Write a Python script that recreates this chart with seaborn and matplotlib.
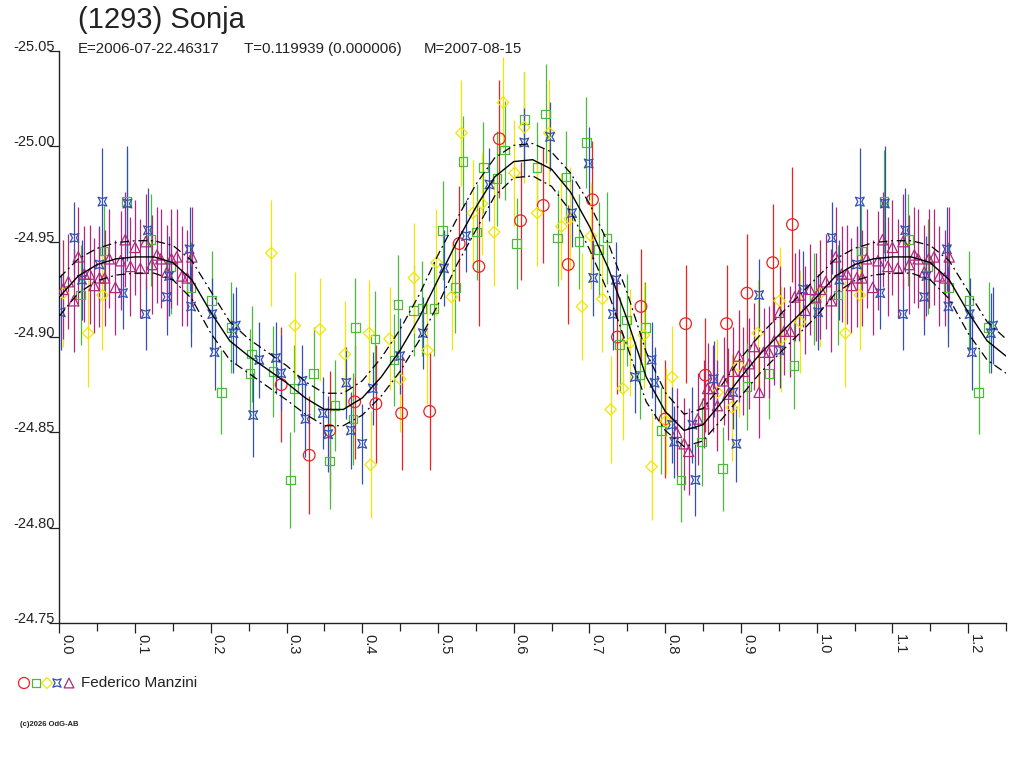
import numpy as np
import pandas as pd
import matplotlib
matplotlib.use("Agg")
import matplotlib.pyplot as plt
from matplotlib.path import Path
import seaborn as sns

# Lightcurve (1293) Sonja - phase folded, period 0.119939 d
title = "(1293) Sonja"
sub_e = "E=2006-07-22.46317"
sub_t = "T=0.119939 (0.000006)"
sub_m = "M=2007-08-15"
observer = "Federico Manzini"
footer = "(c)2026 OdG-AB"

# red circles
red_phase = [0.293, 0.330, 0.357, 0.390, 0.418, 0.452, 0.489, 0.528, 0.554, 0.581, 0.609, 0.639,
             0.672, 0.704, 0.737, 0.768, 0.800, 0.827, 0.853, 0.881, 0.908, 0.942, 0.968]
red_mag = [-24.875, -24.838, -24.851, -24.866, -24.865, -24.860, -24.861, -24.949, -24.937, -25.004,
           -24.961, -24.969, -24.938, -24.972, -24.900, -24.916, -24.857, -24.907, -24.880, -24.907,
           -24.923, -24.939, -24.959]
red_err = [0.030, 0.031, 0.031, 0.030, 0.031, 0.030, 0.031, 0.030, 0.031, 0.031, 0.031, 0.030,
           0.031, 0.031, 0.030, 0.030, 0.031, 0.031, 0.030, 0.031, 0.031, 0.031, 0.030]

# green squares
green_phase = [0.028, 0.059, 0.089, 0.121, 0.147, 0.174, 0.201, 0.214, 0.227, 0.254, 0.252, 0.282,
               0.305, 0.310, 0.336, 0.357, 0.364, 0.388, 0.391, 0.417, 0.442, 0.447, 0.468, 0.479,
               0.495, 0.506, 0.523, 0.533, 0.551, 0.560, 0.578, 0.588, 0.604, 0.614, 0.631, 0.642,
               0.658, 0.669, 0.686, 0.696, 0.712, 0.723, 0.740, 0.749, 0.767, 0.774, 0.795, 0.821,
               0.848, 0.876, 0.908, 0.937, 0.970, 0.997]
green_mag = [-24.922, -24.945, -24.971, -24.951, -24.937, -24.926, -24.919, -24.871, -24.905, -24.891,
             -24.881, -24.882, -24.825, -24.873, -24.881, -24.835, -24.864, -24.857, -24.905, -24.899,
             -24.888, -24.917, -24.914, -24.915, -24.915, -24.956, -24.926, -24.992, -24.955, -24.989,
             -24.983, -24.998, -24.949, -25.014, -24.989, -25.017, -24.952, -24.984, -24.950, -25.002,
             -24.946, -24.952, -24.896, -24.909, -24.880, -24.905, -24.851, -24.825, -24.845, -24.831,
             -24.874, -24.881, -24.885, -24.920]
green_err = [0.026, 0.024, 0.027, 0.024, 0.025, 0.024, 0.026, 0.022, 0.024, 0.025, 0.023, 0.024,
             0.025, 0.023, 0.024, 0.025, 0.024, 0.024, 0.026, 0.025, 0.024, 0.026, 0.024, 0.025,
             0.025, 0.026, 0.024, 0.024, 0.025, 0.024, 0.025, 0.026, 0.024, 0.025, 0.024, 0.026,
             0.025, 0.024, 0.025, 0.024, 0.025, 0.024, 0.025, 0.024, 0.023, 0.024, 0.023, 0.022,
             0.023, 0.022, 0.023, 0.024, 0.023, 0.024]

# yellow diamonds
yellow_phase = [0.005, 0.038, 0.057, 0.280, 0.311, 0.344, 0.377, 0.409, 0.411, 0.436, 0.450, 0.468,
                0.486, 0.498, 0.518, 0.531, 0.546, 0.558, 0.574, 0.586, 0.601, 0.614, 0.631, 0.647,
                0.663, 0.674, 0.690, 0.702, 0.717, 0.728, 0.744, 0.754, 0.772, 0.782, 0.801, 0.809,
                0.869, 0.888, 0.897, 0.922, 0.951, 0.953, 0.978]
yellow_mag = [-24.923, -24.902, -24.922, -24.944, -24.906, -24.904, -24.891, -24.902, -24.833, -24.899,
              -24.878, -24.931, -24.893, -24.939, -24.921, -25.007, -24.965, -24.970, -24.955, -25.023,
              -24.986, -25.010, -24.965, -25.007, -24.958, -24.962, -24.916, -24.953, -24.920, -24.862,
              -24.873, -24.897, -24.901, -24.832, -24.856, -24.879, -24.871, -24.863, -24.885, -24.902,
              -24.919, -24.899, -24.908]
yellow_err = [0.028, 0.028, 0.029, 0.028, 0.028, 0.027, 0.028, 0.028, 0.028, 0.027, 0.028, 0.029,
              0.028, 0.028, 0.028, 0.028, 0.028, 0.027, 0.028, 0.024, 0.028, 0.029, 0.028, 0.028,
              0.028, 0.027, 0.028, 0.028, 0.028, 0.028, 0.027, 0.028, 0.028, 0.028, 0.028, 0.027,
              0.028, 0.028, 0.027, 0.028, 0.028, 0.028, 0.027]

# blue stars
blue_phase = [0.002, 0.020, 0.030, 0.053, 0.057, 0.084, 0.090, 0.114, 0.117, 0.142, 0.145, 0.172,
              0.174, 0.202, 0.205, 0.230, 0.233, 0.256, 0.264, 0.286, 0.293, 0.321, 0.325, 0.348,
              0.355, 0.379, 0.385, 0.400, 0.414, 0.450, 0.480, 0.508, 0.537, 0.568, 0.614, 0.648,
              0.677, 0.699, 0.705, 0.731, 0.735, 0.760, 0.782, 0.786, 0.809, 0.812, 0.836, 0.840,
              0.864, 0.890, 0.894, 0.924, 0.951, 0.982]
blue_mag = [-24.913, -24.952, -24.930, -24.938, -24.971, -24.923, -24.970, -24.912, -24.956, -24.921,
            -24.932, -24.946, -24.916, -24.912, -24.892, -24.902, -24.906, -24.859, -24.888, -24.889,
            -24.881, -24.877, -24.857, -24.860, -24.849, -24.876, -24.851, -24.844, -24.873, -24.890,
            -24.902, -24.936, -24.953, -24.980, -25.002, -25.005, -24.965, -24.991, -24.931, -24.912,
            -24.930, -24.879, -24.888, -24.876, -24.854, -24.845, -24.854, -24.825, -24.878, -24.871,
            -24.844, -24.922, -24.893, -24.925]
blue_err = [0.020, 0.019, 0.021, 0.020, 0.028, 0.019, 0.030, 0.019, 0.022, 0.020, 0.021, 0.022,
            0.021, 0.019, 0.020, 0.021, 0.020, 0.022, 0.020, 0.019, 0.020, 0.019, 0.020, 0.019,
            0.020, 0.019, 0.020, 0.021, 0.019, 0.020, 0.019, 0.020, 0.019, 0.019, 0.018, 0.018,
            0.018, 0.019, 0.020, 0.019, 0.020, 0.019, 0.020, 0.019, 0.020, 0.019, 0.020, 0.019,
            0.020, 0.019, 0.020, 0.019, 0.020, 0.020]

# magenta triangles
mag_phase = [0.005, 0.012, 0.019, 0.025, 0.033, 0.040, 0.046, 0.053, 0.060, 0.066, 0.074, 0.081,
             0.087, 0.094, 0.100, 0.107, 0.114, 0.122, 0.129, 0.134, 0.142, 0.148, 0.155, 0.162,
             0.169, 0.175,
             0.815, 0.825, 0.831, 0.843, 0.851, 0.856, 0.863, 0.869, 0.877, 0.883, 0.889, 0.897,
             0.903, 0.911, 0.917, 0.924, 0.930, 0.937, 0.944, 0.951, 0.957, 0.965, 0.971, 0.977,
             0.985, 0.991, 0.999]
mag_mag = [-24.925, -24.929, -24.919, -24.942, -24.933, -24.933, -24.927, -24.931, -24.931, -24.941,
           -24.926, -24.940, -24.951, -24.937, -24.947, -24.936, -24.950, -24.938, -24.943, -24.941,
           -24.934, -24.941, -24.942, -24.932, -24.931, -24.942,
           -24.850, -24.844, -24.840, -24.857, -24.865, -24.873, -24.873, -24.864, -24.877, -24.870,
           -24.882, -24.890, -24.882, -24.886, -24.895, -24.871, -24.892, -24.892, -24.898, -24.913,
           -24.903, -24.903, -24.921, -24.922, -24.914, -24.925, -24.921]
mag_err = [0.026, 0.025, 0.027, 0.026, 0.025, 0.026, 0.025, 0.026, 0.025, 0.026, 0.025, 0.026,
           0.025, 0.026, 0.025, 0.026, 0.025, 0.026, 0.025, 0.026, 0.025, 0.026, 0.025, 0.026,
           0.025, 0.026,
           0.023, 0.024, 0.023, 0.024, 0.023, 0.024, 0.023, 0.024, 0.023, 0.024, 0.023, 0.024,
           0.023, 0.024, 0.023, 0.024, 0.023, 0.024, 0.023, 0.024, 0.023, 0.024, 0.023, 0.024,
           0.023, 0.024, 0.023]

# fourier fit read at 0.025 phase steps, and half width of the dash-dot band
fit_phase = [0.000, 0.025, 0.050, 0.075, 0.100, 0.125, 0.150, 0.175, 0.200, 0.225, 0.250, 0.275,
             0.300, 0.325, 0.350, 0.375, 0.400, 0.425, 0.450, 0.475, 0.500, 0.525, 0.550, 0.575,
             0.600, 0.625, 0.650, 0.675, 0.700, 0.725, 0.750, 0.775, 0.800, 0.825, 0.850, 0.875,
             0.900, 0.925, 0.950, 0.975, 1.000]
fit_mag = [-24.921, -24.932, -24.938, -24.941, -24.942, -24.942, -24.939, -24.930, -24.913, -24.898,
           -24.890, -24.883, -24.876, -24.868, -24.862, -24.862, -24.868, -24.879, -24.893, -24.910,
           -24.930, -24.950, -24.968, -24.984, -24.992, -24.993, -24.988, -24.976, -24.958, -24.936,
           -24.909, -24.879, -24.861, -24.851, -24.854, -24.866, -24.879, -24.891, -24.901, -24.911,
           -24.921]
fit_band = [0.010, 0.009, 0.0085, 0.0085, 0.0085, 0.0085, 0.009, 0.010, 0.011, 0.010, 0.009, 0.009,
            0.009, 0.0085, 0.0085, 0.0085, 0.009, 0.010, 0.011, 0.012, 0.013, 0.012, 0.012, 0.010,
            0.0085, 0.0085, 0.009, 0.010, 0.012, 0.013, 0.014, 0.013, 0.010, 0.0085, 0.0085, 0.009,
            0.010, 0.010, 0.010, 0.010, 0.010]

series = [
    ("red", red_phase, red_mag, red_err, "#ee2020", "o", 70),
    ("green", green_phase, green_mag, green_err, "#4cbb3c", "s", 38),
    ("yellow", yellow_phase, yellow_mag, yellow_err, "#f2e600", "D", 34),
    ("blue", blue_phase, blue_mag, blue_err, "#3450b4", None, 40),
    ("magenta", mag_phase, mag_mag, mag_err, "#b0287e", "^", 55),
]

star = Path([(-1, 1), (0, 0.7), (1, 1), (0.45, 0), (1, -1), (0, -0.7), (-1, -1), (-0.45, 0), (-1, 1)],
            [Path.MOVETO] + [Path.LINETO] * 7 + [Path.CLOSEPOLY])

XMAX = 1.25


def wrap(ph, vals):
    # the plot repeats the first quarter of the phase after 1.0
    df = pd.DataFrame({"phase": ph, "mag": vals[0], "err": vals[1]})
    extra = df[df["phase"] + 1 <= XMAX].copy()
    extra["phase"] += 1
    return pd.concat([df, extra], ignore_index=True)


sns.set_style("white")
plt.rcParams["font.family"] = ["Liberation Sans", "DejaVu Sans"]

fig = plt.figure(figsize=(10.24, 7.68), dpi=100)
ax = fig.add_axes([59.3 / 1024, 1 - 623 / 768, (1006 - 59.3) / 1024, (623 - 51) / 768])

for name, ph, mg, er, col, mk, size in series:
    d = wrap(ph, (mg, er))
    ax.vlines(d["phase"], d["mag"] - d["err"], d["mag"] + d["err"], color=col, lw=0.9, zorder=2)
    sns.scatterplot(data=d, x="phase", y="mag", ax=ax, marker=mk if mk else star, s=size,
                    facecolors="none", edgecolor=col, linewidth=0.9, zorder=3, legend=False)

fit = pd.DataFrame({"phase": fit_phase, "mag": fit_mag, "band": fit_band})
fx = fit[(fit["phase"] > 0) & (fit["phase"] + 1 <= XMAX + 1e-9)].copy()
fx["phase"] += 1
fit = pd.concat([fit, fx], ignore_index=True)
sns.lineplot(x=fit["phase"], y=fit["mag"], ax=ax, color="black", lw=1.0, zorder=5, sort=False)
for sign in (-1, 1):
    sns.lineplot(x=fit["phase"], y=fit["mag"] + sign * fit["band"], ax=ax, color="black", lw=0.9,
                 linestyle=(0, (7, 3, 1.5, 3)), zorder=5, sort=False)

ax.set_xlim(0, XMAX)
ax.set_ylim(-24.75, -25.05)
ax.set_xticks(np.arange(0, 1.21, 0.1))
ax.set_xticks(np.arange(0.05, 1.26, 0.1), minor=True)
ax.set_xticklabels([f"{v:.1f}" for v in np.arange(0, 1.21, 0.1)])
ax.set_yticks(np.arange(-25.05, -24.74, 0.05))
ax.set_yticklabels([f"{v:.2f}" for v in np.arange(-25.05, -24.74, 0.05)])
ax.set_xlabel("")
ax.set_ylabel("")
for s in ("top", "right"):
    ax.spines[s].set_visible(False)
for s in ("left", "bottom"):
    ax.spines[s].set_color("#222222")
    ax.spines[s].set_linewidth(1.0)
ax.tick_params(axis="x", which="both", direction="out", length=7, width=0.9, color="#222222",
               labelsize=10.5, labelcolor="#222222", pad=1, bottom=True)
ax.tick_params(axis="x", which="minor", length=6)
ax.tick_params(axis="y", direction="out", length=7, width=0.9, color="#222222",
               labelsize=10.5, labelcolor="#222222", pad=-4, left=True)
for lab in ax.get_xticklabels():
    lab.set_rotation(-90)
    lab.set_ha("left")
for lab in ax.get_yticklabels():
    lab.set_va("baseline")

W, H = 1024, 768
fig.text(78 / W, 1 - 28 / H, title, fontsize=21, color="#222222", va="baseline")
fig.text(78 / W, 1 - 53 / H, sub_e, fontsize=10.8, color="#222222", va="baseline")
fig.text(244 / W, 1 - 53 / H, sub_t, fontsize=10.8, color="#222222", va="baseline")
fig.text(424 / W, 1 - 53 / H, sub_m, fontsize=10.8, color="#222222", va="baseline")

# legend row under the plot
lax = fig.add_axes([0, 0, 1, 1])
lax.set_xlim(0, W)
lax.set_ylim(H, 0)
lax.axis("off")
lax.patch.set_alpha(0)
leg_x = [24, 36, 47, 57, 69]
for (name, ph, mg, er, col, mk, size), lx in zip(series, leg_x):
    lax.scatter([lx], [683], marker=mk if mk else star, s=size * 0.9, facecolors="none",
                edgecolors=col, linewidths=0.9)
lax.text(81, 683, observer, fontsize=11, color="#222222", va="center")
lax.text(20, 725, footer, fontsize=5.5, color="#222222", va="center", fontweight="bold")

fig.savefig("out.png", dpi=100)
